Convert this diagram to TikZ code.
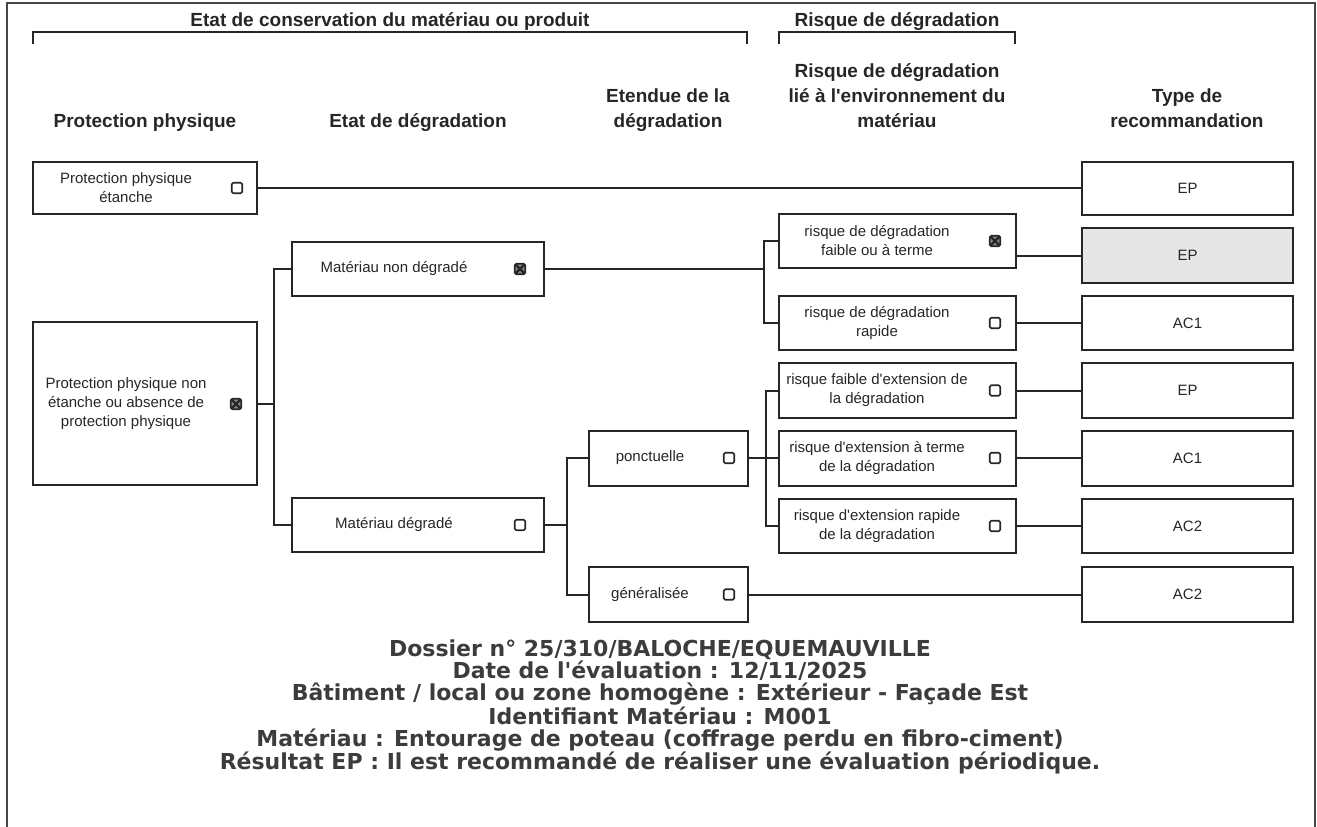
\documentclass[tikz,border=0pt]{standalone}
\usepackage{fontspec}
\setmainfont{Liberation Sans}
\newfontfamily\btmfont{DejaVu Sans}
\newcommand\apos{\textquotesingle}
\definecolor{ink}{HTML}{262626}
\definecolor{boxgray}{HTML}{E6E6E6}
\begin{document}
\begin{tikzpicture}[x=1pt,y=-1pt,
  box/.style={draw=ink, line width=2pt, rectangle, inner sep=0pt, outer sep=0pt},
  lbl/.style={font=\fontsize{15}{19}\selectfont, align=center, text=ink, inner sep=0pt},
  hdr/.style={font=\fontsize{19}{25}\selectfont\bfseries, align=center, text=ink, inner sep=0pt, anchor=south, text depth=0pt},
  conn/.style={draw=ink, line width=2pt},
  cb/.style={draw=ink, line width=1.6pt, rectangle, rounded corners=1.5pt, minimum size=10.5pt, inner sep=0pt},
  cbx/.style={cb, fill=ink!55, path picture={\draw[ink, line width=2.2pt] (path picture bounding box.south west) -- (path picture bounding box.north east) (path picture bounding box.north west) -- (path picture bounding box.south east);}},
  res/.style={font=\btmfont\bfseries\fontsize{22}{22.2}\selectfont, align=center, text=ink!90, inner sep=0pt, anchor=south, text depth=0pt}
]
\useasboundingbox (0,0) rectangle (1317,827);
% frame
\draw[ink!85, line width=1.5pt] (7,827) -- (7,3) -- (1315,3) -- (1315,827);
% top headers and brackets
\node[hdr] (h1) at (390,27) {Etat de conservation du matériau ou produit};
\node[hdr] (h2) at (897,27) {Risque de dégradation};
\draw[ink, line width=2pt] (33,44) -- (33,32) -- (747,32) -- (747,44);
\draw[ink, line width=2pt] (779,44) -- (779,32) -- (1015,32) -- (1015,44);
% column headers
\node[hdr] (hc1) at (145,128) {Protection physique};
\node[hdr] (hc2) at (418,128) {Etat de dégradation};
\node[hdr] (hc3) at (668,128) {Etendue de la\\dégradation};
\node[hdr] (hc4) at (897,128) {Risque de dégradation\\lié à l\apos environnement du\\matériau};
\node[hdr] (hc5) at (1187,128) {Type de\\recommandation};
% boxes column 1
\node[box, minimum width=224pt, minimum height=52pt] (b1) at (145,188) {};
\node[box, minimum width=224pt, minimum height=163pt] (b2) at (145,403.5) {};
% column 2
\node[box, minimum width=252pt, minimum height=54pt] (c1) at (418,269) {};
\node[box, minimum width=252pt, minimum height=54pt] (c2) at (418,525) {};
% column 3
\node[box, minimum width=159pt, minimum height=55pt] (d1) at (668.5,458) {};
\node[box, minimum width=159pt, minimum height=55pt] (d2) at (668.5,594.5) {};
% column 4
\node[box, minimum width=237pt, minimum height=54pt] (e1) at (897.5,241) {};
\node[box, minimum width=237pt, minimum height=54pt] (e2) at (897.5,323) {};
\node[box, minimum width=237pt, minimum height=55pt] (e3) at (897.5,390.5) {};
\node[box, minimum width=237pt, minimum height=55pt] (e4) at (897.5,458) {};
\node[box, minimum width=237pt, minimum height=54pt] (e5) at (897.5,526) {};
% column 5
\node[box, minimum width=211pt, minimum height=53pt] (f0) at (1187.5,188) {};
\node[box, fill=boxgray, minimum width=211pt, minimum height=55pt] (f1) at (1187.5,255.5) {};
\node[box, minimum width=211pt, minimum height=54pt] (f2) at (1187.5,323) {};
\node[box, minimum width=211pt, minimum height=55pt] (f3) at (1187.5,390.5) {};
\node[box, minimum width=211pt, minimum height=55pt] (f4) at (1187.5,458) {};
\node[box, minimum width=211pt, minimum height=54pt] (f5) at (1187.5,526) {};
\node[box, minimum width=211pt, minimum height=55pt] (f6) at (1187.5,594.5) {};
% labels
\node[lbl] (tb1) at (126,188) {Protection physique\\étanche};
\node[lbl] (tb2) at (126,404) {Protection physique non\\étanche ou absence de\\protection physique};
\node[lbl] (tc1) at (394,269) {Matériau non dégradé};
\node[lbl] (tc2) at (394,525) {Matériau dégradé};
\node[lbl] (td1) at (650,458) {ponctuelle};
\node[lbl] (td2) at (650,594.5) {généralisée};
\node[lbl] (te1) at (877,241) {risque de dégradation\\faible ou à terme};
\node[lbl] (te2) at (877,323) {risque de dégradation\\rapide};
\node[lbl] (te3) at (877,390.5) {risque faible d\apos extension de\\la dégradation};
\node[lbl] (te4) at (877,458) {risque d\apos extension à terme\\de la dégradation};
\node[lbl] (te5) at (877,526) {risque d\apos extension rapide\\de la dégradation};
\node[lbl] (tf0) at (1187.5,188) {EP};
\node[lbl] (tf1) at (1187.5,255.5) {EP};
\node[lbl] (tf2) at (1187.5,323) {AC1};
\node[lbl] (tf3) at (1187.5,390.5) {EP};
\node[lbl] (tf4) at (1187.5,458) {AC1};
\node[lbl] (tf5) at (1187.5,526) {AC2};
\node[lbl] (tf6) at (1187.5,594.5) {AC2};
% check boxes
\node[cb] (kb1) at (237,188) {};
\node[cbx] (kb2) at (236,404) {};
\node[cbx] (kc1) at (520,269) {};
\node[cb] (kc2) at (520,525) {};
\node[cb] (kd1) at (729,458) {};
\node[cb] (kd2) at (729,594.5) {};
\node[cbx] (ke1) at (995,241) {};
\node[cb] (ke2) at (995,323) {};
\node[cb] (ke3) at (995,390.5) {};
\node[cb] (ke4) at (995,458) {};
\node[cb] (ke5) at (995,526) {};
% junctions
\coordinate (j1) at (274,403.5);
\coordinate (j2) at (764,269);
\coordinate (j3) at (567,525);
\coordinate (j4) at (766,458);
% connectors
\draw[conn] (b1.east) -- (f0.west);
\draw[conn] (b2.east) -- (j1);
\draw[conn] (c1.west) -| (j1);
\draw[conn] (c2.west) -| (j1);
\draw[conn] (c1.east) -- (j2);
\draw[conn] (e1.west) -| (j2);
\draw[conn] (e2.west) -| (j2);
\draw[conn] (f1.west) -- (f1.west -| e1.east);
\draw[conn] (e2.east) -- (f2.west);
\draw[conn] (c2.east) -- (j3);
\draw[conn] (d1.west) -| (j3);
\draw[conn] (d2.west) -| (j3);
\draw[conn] (d1.east) -- (e4.west);
\draw[conn] (e3.west) -| (j4);
\draw[conn] (e5.west) -| (j4);
\draw[conn] (e3.east) -- (f3.west);
\draw[conn] (e4.east) -- (f4.west);
\draw[conn] (e5.east) -- (f5.west);
\draw[conn] (d2.east) -- (f6.west);
% result text
\node[res] (result) at (660,770) {Dossier n° 25/310/BALOCHE/EQUEMAUVILLE\\Date de l\apos évaluation : 12/11/2025\\Bâtiment / local ou zone homogène : Extérieur - Façade Est\\Identifiant Matériau : M001\\Matériau : Entourage de poteau (coffrage perdu en fibro-ciment)\\Résultat EP : Il est recommandé de réaliser une évaluation périodique.};
\end{tikzpicture}
\end{document}
